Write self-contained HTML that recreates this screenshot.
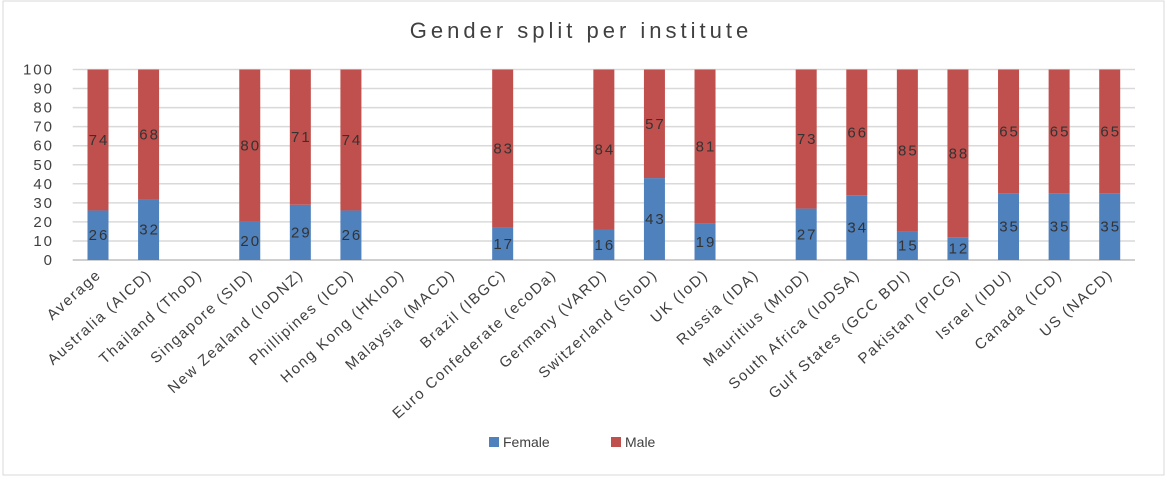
<!DOCTYPE html>
<html><head><meta charset="utf-8"><style>
body{margin:0;background:#fff;font-family:"Liberation Sans",sans-serif}
svg text{font-family:"Liberation Sans",sans-serif}
</style></head><body>
<svg id="chart" width="1167" height="478">
<rect x="3" y="1" width="1161" height="474" fill="#fff" stroke="#d9d9d9"/>
<text x="581" y="38" text-anchor="middle" font-size="22" letter-spacing="4" fill="#404040">Gender split per institute</text>
<g id="grid"></g><g id="bars"></g><g id="labels"></g>
<g>
<rect x="489" y="437" width="10" height="10" fill="#4f81bd"/>
<text x="503" y="447" font-size="14" fill="#404040">Female</text>
<rect x="611" y="437" width="10" height="10" fill="#c0504d"/>
<text x="625" y="447" font-size="14" fill="#404040">Male</text>
</g>
</svg>
<script>
const categories=["Average","Australia (AICD)","Thailand (ThoD)","Singapore (SID)","New Zealand (IoDNZ)","Phillipines (ICD)","Hong Kong (HKIoD)","Malaysia (MACD)","Brazil (IBGC)","Euro Confederate (ecoDa)","Germany (VARD)","Switzerland (SIoD)","UK (IoD)","Russia (IDA)","Mauritius (MIoD)","South Africa (IoDSA)","Gulf States (GCC BDI)","Pakistan (PICG)","Israel (IDU)","Canada (ICD)","US (NACD)"];
const female=[26,32,null,20,29,26,null,null,17,null,16,43,19,null,27,34,15,12,35,35,35];
const male=[74,68,null,80,71,74,null,null,83,null,84,57,81,null,73,66,85,88,65,65,65];
const yTicks=[0,10,20,30,40,50,60,70,80,90,100];
const NS="http://www.w3.org/2000/svg";
const L=72.7,R=1135,T=69.5,B=260;
const step=(R-L)/categories.length;
const x=i=>L+step*(i+0.5);
const y=v=>B-(B-T)*v/100;
function mk(tag,attrs,parent,txt){const e=document.createElementNS(NS,tag);for(const k in attrs)e.setAttribute(k,attrs[k]);if(txt!=null)e.textContent=txt;parent.appendChild(e);return e;}
const grid=document.getElementById('grid'),bars=document.getElementById('bars'),labels=document.getElementById('labels');
yTicks.forEach(t=>{
 const l=mk('line',{x1:L,x2:R,y1:y(t),y2:y(t),stroke:t===0?'#bfbfbf':'#d9d9d9','stroke-width':1.5},grid);
 
 
 const tx=mk('text',{x:54,y:y(t)+5,'text-anchor':'end','font-size':15,'letter-spacing':2,fill:'#404040'},grid,t);
 
 
});
const bw=21;
categories.forEach((c,i)=>{
 const cx=x(i);
 if(female[i]!=null){
  const f=mk('rect',{x:cx-bw/2,y:y(female[i]),width:bw,height:B-y(female[i]),fill:'#4f81bd'},bars);
  
  
  const m=mk('rect',{x:cx-bw/2,y:y(female[i]+male[i]),width:bw,height:y(female[i])-y(female[i]+male[i]),fill:'#c0504d'},bars);
  
  
  const fl=mk('text',{x:cx+1,y:y(female[i]/2)+5,'text-anchor':'middle','font-size':15,'letter-spacing':2,fill:'#333'},bars,female[i]);
  
  
  const ml=mk('text',{x:cx+1,y:y(female[i]+male[i]/2)+5,'text-anchor':'middle','font-size':15,'letter-spacing':2,fill:'#333'},bars,male[i]);
  
  
 }
 const ax=cx+4, ay=276;
 const cl=mk('text',{x:ax,y:ay,'text-anchor':'end','font-size':15,'letter-spacing':1.6,fill:'#404040',transform:`rotate(-42 ${ax} ${ay})`},labels,c);
 
 
});
</script>
</body></html>
